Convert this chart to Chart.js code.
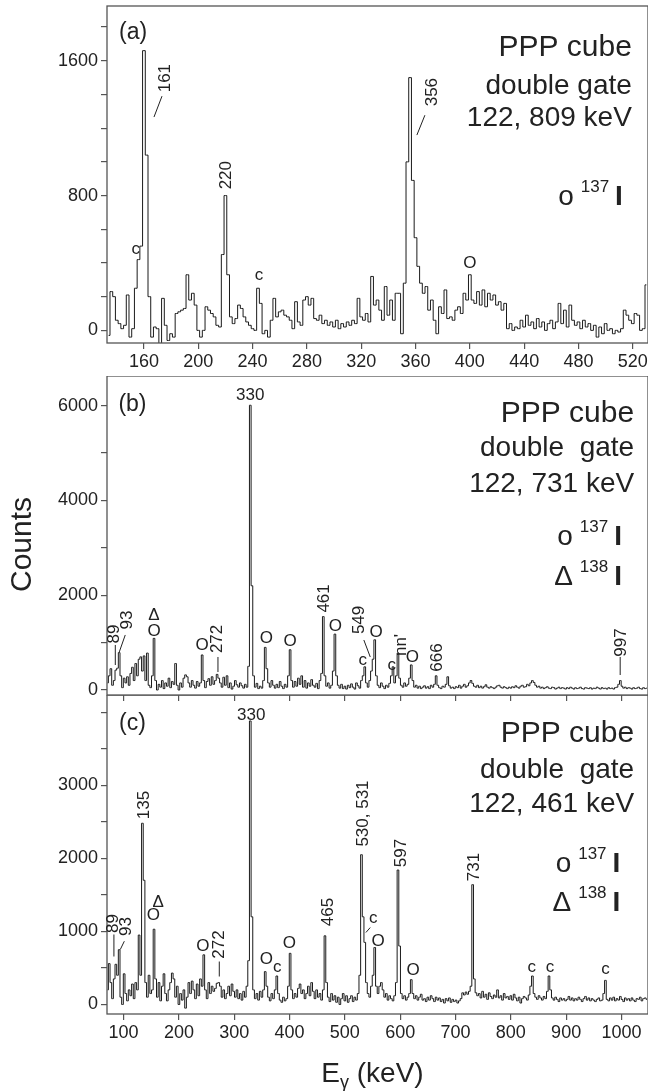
<!DOCTYPE html>
<html>
<head>
<meta charset="utf-8">
<script src="https://cdn.jsdelivr.net/npm/chart.js@4.4.1/dist/chart.umd.min.js"></script>
<style>
  html, body { margin: 0; padding: 0; background: #fff; }
  #wrap { position: relative; width: 648px; height: 1091px; overflow: hidden; }
  canvas { position: absolute; left: 0; }
</style>
</head>
<body>
<div id="wrap">
  <canvas id="chartA" width="648" height="372" style="top:0px"></canvas>
  <canvas id="chartB" width="648" height="327" style="top:376px"></canvas>
  <canvas id="chartC" width="648" height="396" style="top:695px"></canvas>
</div>
<script>
const FONT = "'Liberation Sans', Arial, sans-serif";
const INK = '#222';
const FRAME = '#555';

// panel (a): gate 122, 809 keV -- 2 keV channels from 134 keV
const startA = 134, stepA = 2;
const countsA = [
  -30, 230, 200, 60, 40, 10, 30, 210, -40, 10,
  250, 420, 500, 1660, 1040, 200, -40, 20, 10, -80,
  190, 30, -60, -20, -40, 100, 110, 120, 130, 330,
  180, 220, 150, 0, -40, 0, 140, 120, 100, 80,
  30, 20, 450, 800, 330, 80, 40, 70, 150, 130,
  80, 50, 30, 10, 0, 250, 160, -20, 0, -40,
  60, 190, 80, 110, 120, 90, 80, 60, 10, 170,
  50, 30, 180, 200, 150, 190, 70, 60, 90, 40,
  60, 30, 50, 20, 60, 10, 40, 20, 50, 30,
  60, 40, 190, 80, 60, 100, 50, 320, 150, 180,
  120, 60, 260, 90, 180, 60, 220, 220, -20, 280,
  1000, 1500, 890, 550, 380, 280, 220, 260, 120, 180,
  60, -20, 140, 100, 240, 70, 80, 60, 120, 140,
  100, 220, 180, 330, 180, 160, 230, 150, 240, 140,
  220, 180, 210, 150, 170, 120, 160, 10, 40, 0,
  20, 10, 60, 20, 90, 30, 50, 10, 70, 20,
  50, 0, 40, 60, 10, 50, 160, 40, 120, 20,
  150, 60, 30, 50, 10, 60, 20, 40, 0, 30,
  -40, 20, -20, 40, 0, 10, -20, 0, -10, 10,
  120, 90, 60, 40, 100, 90, 0, 10, 270
];

// panels (b) and (c): 3 keV channels from 71 keV, one row = 30 keV
const startBC = 71, stepBC = 3;
const countsB = [
  150, 300, 450, 100, 200, 420, 460, 790, 300, 50,
  250, 150, 280, 100, 350, 480, 200, 560, 300, 650,
  700, 400, 720, 200, 780, 100, 50, 300, 1090, 200,
  0, 120, 60, 200, 30, 150, 80, 250, 50, 180,
  120, 560, 100, 0, 150, 60, 250, 320, 280, 150,
  60, 200, 100, 40, 180, 80, 150, 740, 200, 50,
  180, 240, 100, 280, 120, 200, 330, 250, 150, 60,
  270, 100, 300, 50, 150, 20, 80, 200, 110, 60,
  150, 90, 40, 120, 60, 500, 6010, 2200, 300, 60,
  140, 30, 80, 40, 200, 900, 450, 150, 60, 200,
  100, 40, 120, 50, 180, 80, 30, 120, 60, 300,
  850, 200, 60, 180, 80, 250, 120, 300, 60, 200,
  40, 150, 80, 220, 100, 60, 140, 30, 200, 350,
  1550, 300, 80, 150, 40, 100, 400, 1180, 300, 100,
  40, 120, 30, 80, 20, 100, 50, 130, 60, 20,
  150, 90, 40, 200, 300, 490, 150, 60, 200, 400,
  650, 1060, 300, 100, 50, 150, 80, 30, 100, 60,
  140, 300, 490, 150, 300, 780, 250, 100, 60, 150,
  80, 120, 250, 530, 200, 60, 100, 40, 80, 30,
  60, 90, 40, 70, 30, 100, 60, 120, 300, 100,
  50, 30, 80, 60, 120, 280, 90, 40, 60, 30,
  70, 50, 100, 40, 80, 120, 60, 90, 150, 200,
  140, 80, 60, 100, 50, 80, 40, 70, 110, 60,
  40, 70, 50, 30, 60, 90, 100, 60, 40, 70,
  50, 30, 60, 40, 70, 50, 90, 60, 40, 80,
  100, 60, 70, 120, 90, 150, 200, 160, 100, 60,
  80, 40, 60, 30, 50, 70, 40, 30, 60, 50,
  20, 40, 60, 30, 50, 40, 20, 50, 30, 60,
  40, 20, 50, 30, 40, 60, 30, 20, 50, 40,
  30, 50, 20, 40, 30, 60, 40, 20, 50, 30,
  40, 20, 50, 30, 40, 20, 50, 60, 120, 200,
  80, 40, 60, 30, 50, 40, 20, 50, 30, 40,
  60, 30, 20, 50, 30, 40
];
const countsC = [
  200, 560, 300, 80, 350, 550, 400, 750, 100, 0,
  420, 150, 50, 200, 120, 280, 80, 300, 200, 950,
  400, 2480, 1700, 300, 100, 400, 150, 200, 1030, 350,
  100, 300, 50, 250, 420, 150, 50, 200, 300, 430,
  350, 100, 250, 0, 150, 60, 200, -50, 100, 300,
  150, 320, 200, 80, 280, 120, 350, 250, 680, 200,
  80, 300, 150, 250, 180, 220, 290, 300, 250, 100,
  200, 80, 150, 250, 120, 280, 180, 100, 200, 80,
  150, 60, 180, 100, 250, 600, 3880, 1200, 200, 80,
  150, 60, 180, 100, 200, 450, 250, 100, 50, 150,
  80, 200, 390, 150, 60, 30, 100, 50, 80, 250,
  700, 200, 80, 150, 100, 220, 280, 150, 200, 80,
  150, 250, 120, 300, 180, 80, 200, 100, 150, 60,
  200, 940, 300, 100, 40, 150, 60, 120, 30, 100,
  0, 80, 150, 50, 120, 30, 80, 120, 40, 100,
  60, 150, 400, 2050, 1200, 850, 300, 150, 100, 250,
  400, 780, 250, 150, 250, 300, 200, 100, 150, 60,
  120, 80, 50, 120, 300, 1840, 800, 150, 80, 120,
  60, 100, 150, 340, 150, 80, 120, 60, 100, 140,
  60, 80, 40, 100, 60, 120, 80, 40, 100, 60,
  90, 40, 70, 20, 80, 50, 90, 30, 70, 40,
  60, 20, 50, 80, 160, 130, 170, 140, 180, 250,
  1640, 350, 160, 120, 150, 90, 180, 100, 140, 70,
  160, 110, 80, 130, 100, 200, 90, 120, 60, 150,
  90, 110, 70, 120, 60, 140, 90, 50, 100, 20,
  80, 110, 90, 60, 130, 250, 390, 150, 100, 70,
  120, 90, 60, 110, 80, 180, 390, 200, 90, 60,
  100, 70, 40, 90, 60, 80, 50, 70, 110, 60,
  90, 50, 80, 60, 100, 70, 40, 80, 110, 60,
  90, 50, 80, 60, 40, 70, 90, 50, 60, 150,
  330, 70, 50, 90, 60, 100, 50, 80, 60, 110,
  70, 40, 90, 60, 80, 50, 90, 60, 40, 80,
  70, 100, 50, 80, 90, 70
];

// axes
const xTicksA = [160, 200, 240, 280, 320, 360, 400, 440, 480, 520];
const yTicksA = [0, 200, 400, 600, 800, 1000, 1200, 1400, 1600, 1800];
const yLabelsA = [0, 800, 1600];
const xTicksBC = [100, 200, 300, 400, 500, 600, 700, 800, 900, 1000];
const yTicksB = [0, 1000, 2000, 3000, 4000, 5000, 6000];
const yLabelsB = [0, 2000, 4000, 6000];
const yTicksC = [0, 500, 1000, 1500, 2000, 2500, 3000, 3500, 4000];
const yLabelsC = [0, 1000, 2000, 3000];

// peak labels, placed in (keV, counts)
const notesA = [
  { t: '(a)', x: 152, y: 1765, size: 23 },
  { t: '161', x: 176, y: 1497, rot: true },
  { t: '220', x: 220.4, y: 921, rot: true },
  { t: '356', x: 372, y: 1414, rot: true },
  { t: 'c', x: 154, y: 481 },
  { t: 'c', x: 244.7, y: 327 },
  { t: 'O', x: 400, y: 398 }
];
const linesA = [[167.4, 1266, 173.3, 1390], [361, 1159, 366.9, 1277]];
const headA = ['PPP cube', 'double gate', '122, 809 keV'];

const notesB = [
  { t: '(b)', x: 116, y: 6022, size: 23 },
  { t: '330', x: 329, y: 6127, base: 'alphabetic' },
  { t: '89', x: 83.2, y: 1183, rot: true },
  { t: '93', x: 107.6, y: 1479, rot: true },
  { t: 'Δ', x: 155, y: 1585 },
  { t: 'O', x: 155, y: 1247 },
  { t: 'O', x: 242, y: 951 },
  { t: '272', x: 270.3, y: 1078, rot: true },
  { t: 'O', x: 358, y: 1099 },
  { t: 'O', x: 401, y: 1035 },
  { t: '461', x: 462, y: 1933, rot: true },
  { t: 'O', x: 483, y: 1352 },
  { t: '549', x: 526.9, y: 1479, rot: true },
  { t: 'c', x: 532.3, y: 634 },
  { t: 'O', x: 556.7, y: 1215 },
  { t: 'c', x: 584.7, y: 528 },
  { t: "nn'", x: 601.9, y: 951, rot: true },
  { t: 'O', x: 621.8, y: 687 },
  { t: '666', x: 667, y: 687, rot: true },
  { t: '997', x: 999.5, y: 1004, rot: true }
];
const linesB = [[85, 951, 85, 528], [92.2, 803, 103, 1162], [270.6, 697, 270.6, 380],
  [534.3, 1056, 545.9, 697], [997.7, 697, 997.7, 317]];
const headB = ['PPP cube', 'double  gate', '122, 731 keV'];

const notesC = [
  { t: '(c)', x: 116, y: 3844, size: 23 },
  { t: '330', x: 330.6, y: 3899, base: 'alphabetic' },
  { t: '135', x: 138.3, y: 2729, rot: true },
  { t: '89', x: 82.3, y: 1108, rot: true },
  { t: '93', x: 104.9, y: 1067, rot: true },
  { t: 'Δ', x: 162.7, y: 1395 },
  { t: 'O', x: 153.7, y: 1218 },
  { t: 'O', x: 243.1, y: 800 },
  { t: '272', x: 273, y: 821, rot: true },
  { t: 'O', x: 357.9, y: 616 },
  { t: 'c', x: 377.8, y: 506 },
  { t: 'O', x: 399.5, y: 834 },
  { t: '465', x: 470.9, y: 1265, rot: true },
  { t: '530, 531', x: 534.1, y: 2613, rot: true },
  { t: 'c', x: 551.3, y: 1176 },
  { t: 'O', x: 560.3, y: 869 },
  { t: '597', x: 601.9, y: 2072, rot: true },
  { t: 'O', x: 623.6, y: 465 },
  { t: '731', x: 733.9, y: 1881, rot: true },
  { t: 'c', x: 838, y: 506 },
  { t: 'c', x: 871, y: 506 },
  { t: 'c', x: 971, y: 480 }
];
const linesC = [[82.5, 958, 82.5, 657], [94, 752, 101.3, 866], [273, 588, 273, 383],
  [538, 985, 545.9, 1053]];
const headC = ['PPP cube', 'double  gate', '122, 461 keV'];

function toPoints(start, step, counts) {
  return counts.map((c, i) => ({ x: start + i * step, y: c }));
}

function drawKey(ctx, sym, sup, right, base) {
  ctx.textAlign = 'left';
  ctx.textBaseline = 'alphabetic';
  ctx.font = 'bold 28px ' + FONT;
  const wI = ctx.measureText('I').width;
  ctx.fillText('I', right - wI, base);
  ctx.font = '17px ' + FONT;
  const wS = ctx.measureText(sup).width;
  ctx.fillText(sup, right - wI - 6 - wS, base - 13);
  ctx.font = '28px ' + FONT;
  ctx.textAlign = 'right';
  ctx.fillText(sym, right - wI - 6 - wS - 7, base);
}

const marks = {
  id: 'marks',
  afterDraw(chart, args, o) {
    const { ctx, chartArea: a } = chart;
    const x = chart.scales.x, y = chart.scales.y;
    ctx.save();
    ctx.strokeStyle = FRAME;
    ctx.lineWidth = 1.3;
    ctx.strokeRect(a.left, a.top, a.right - a.left, a.bottom - a.top);

    ctx.fillStyle = INK;
    ctx.strokeStyle = INK;
    ctx.lineWidth = 1;
    o.lines.forEach(l => {
      ctx.beginPath();
      ctx.moveTo(x.getPixelForValue(l[0]), y.getPixelForValue(l[1]));
      ctx.lineTo(x.getPixelForValue(l[2]), y.getPixelForValue(l[3]));
      ctx.stroke();
    });
    o.notes.forEach(n => {
      const px = x.getPixelForValue(n.x), py = y.getPixelForValue(n.y);
      ctx.font = (n.size || 17) + 'px ' + FONT;
      ctx.textAlign = 'center';
      ctx.textBaseline = n.base || 'middle';
      if (n.rot) {
        ctx.save();
        ctx.translate(px, py);
        ctx.rotate(-Math.PI / 2);
        ctx.fillText(n.t, 0, 0);
        ctx.restore();
      } else {
        ctx.fillText(n.t, px, py);
      }
    });

    // header block, right aligned
    const hx = x.getPixelForValue(o.headX);
    ctx.textAlign = 'right';
    ctx.textBaseline = 'alphabetic';
    o.head.forEach((t, i) => {
      ctx.font = (i === 0 ? 30 : 28) + 'px ' + FONT;
      ctx.fillText(t, hx, y.getPixelForValue(o.headY[i]));
    });
    const kx = x.getPixelForValue(o.keyX);
    drawKey(ctx, 'o', '137', kx, y.getPixelForValue(o.keyY[0]));
    if (o.keyY.length > 1) drawKey(ctx, 'Δ', '138', kx, y.getPixelForValue(o.keyY[1]));

    if (o.yTitle) {
      ctx.save();
      ctx.font = '30px ' + FONT;
      ctx.textAlign = 'center';
      ctx.textBaseline = 'middle';
      ctx.translate(23, (a.top + a.bottom) / 2 + 9);
      ctx.rotate(-Math.PI / 2);
      ctx.fillText(o.yTitle, 0, 0);
      ctx.restore();
    }
    if (o.xTitle) {
      const base = a.bottom + 68;
      ctx.textAlign = 'left';
      ctx.font = '28px ' + FONT;
      const wE = ctx.measureText('E').width;
      const wR = ctx.measureText(' (keV)').width;
      ctx.font = '18px ' + FONT;
      const wG = ctx.measureText('γ').width;
      let cx = (a.left + a.right) / 2 - 5 - (wE + wG + wR) / 2;
      ctx.font = '28px ' + FONT;
      ctx.fillText('E', cx, base);
      ctx.font = '18px ' + FONT;
      ctx.fillText('γ', cx + wE, base + 6);
      ctx.font = '28px ' + FONT;
      ctx.fillText(' (keV)', cx + wE + wG, base);
    }
    ctx.restore();
  }
};

function makeChart(id, cfg) {
  const axisX = {
    type: 'linear',
    min: cfg.xMin, max: cfg.xMax,
    afterBuildTicks: ax => { ax.ticks = cfg.xTicks.map(v => ({ value: v })); },
    afterFit: ax => { ax.height = cfg.xHeight; ax.paddingLeft = 0; ax.paddingRight = 0; },
    ticks: {
      color: INK, padding: 2, maxRotation: 0, autoSkip: false,
      font: { size: 18 },
      callback: v => cfg.xLabels.includes(v) ? String(v) : ''
    },
    grid: { drawOnChartArea: false, drawTicks: true, tickLength: 6, color: FRAME, lineWidth: 1.2 },
    border: { display: false }
  };
  const axisY = {
    min: cfg.yMin, max: cfg.yMax,
    afterBuildTicks: ax => { ax.ticks = cfg.yTicks.map(v => ({ value: v })); },
    afterFit: ax => { ax.width = 107; ax.paddingTop = 0; ax.paddingBottom = 0; },
    ticks: {
      color: INK, padding: 3, autoSkip: false,
      font: { size: 18 },
      callback: v => cfg.yLabels.includes(v) ? String(v) : ''
    },
    grid: { drawOnChartArea: false, drawTicks: true, tickLength: 6, color: FRAME, lineWidth: 1.2 },
    border: { display: false }
  };
  return new Chart(document.getElementById(id), {
    type: 'line',
    data: {
      datasets: [{
        data: cfg.points,
        borderColor: '#1a1a1a',
        borderWidth: 1,
        pointRadius: 0,
        stepped: 'middle',
        fill: false
      }]
    },
    options: {
      responsive: false,
      animation: false,
      devicePixelRatio: 1,
      parsing: false,
      layout: { padding: { top: cfg.padTop, left: 0, right: 0, bottom: 0 } },
      scales: { x: axisX, y: axisY },
      plugins: {
        legend: { display: false },
        tooltip: { enabled: false },
        marks: cfg.marks
      }
    },
    plugins: [marks]
  });
}

Chart.defaults.font.family = FONT;
Chart.defaults.color = INK;

makeChart('chartA', {
  points: toPoints(startA, stepA, countsA),
  xMin: 132.8, xMax: 531.2, xTicks: xTicksA, xLabels: xTicksA, xHeight: 29,
  yMin: -75, yMax: 1925, yTicks: yTicksA, yLabels: yLabelsA, padTop: 6,
  marks: { notes: notesA, lines: linesA, head: headA, headX: 519.3, headY: [1628, 1402, 1212],
    keyX: 512.7, keyY: [743] }
});

makeChart('chartB', {
  points: toPoints(startBC, stepBC, countsB),
  xMin: 70, xMax: 1048, xTicks: xTicksBC, xLabels: [], xHeight: 8,
  yMin: -105, yMax: 6627, yTicks: yTicksB, yLabels: yLabelsB, padTop: 0,
  marks: { notes: notesB, lines: linesB, head: headB, headX: 1023, headY: [5662, 4944, 4183],
    keyX: 1001, keyY: [3064, 2218], yTitle: 'Counts' }
});

makeChart('chartC', {
  points: toPoints(startBC, stepBC, countsC),
  xMin: 70, xMax: 1048, xTicks: xTicksBC, xLabels: xTicksBC, xHeight: 77,
  yMin: -130, yMax: 4235, yTicks: yTicksC, yLabels: yLabelsC, padTop: 0,
  marks: { notes: notesC, lines: linesC, head: headC, headX: 1023, headY: [3598, 3105, 2640],
    keyX: 998, keyY: [1819, 1286], xTitle: true }
});
</script>
</body>
</html>
